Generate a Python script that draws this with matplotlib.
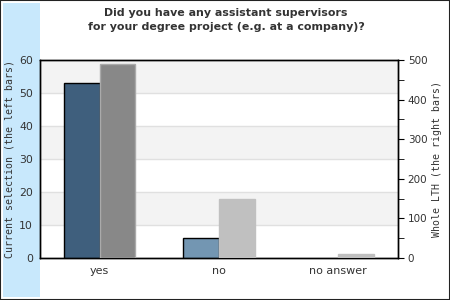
import matplotlib
matplotlib.use("Agg")
import matplotlib.pyplot as plt
from matplotlib.patches import Rectangle
import numpy as np

categories = ["yes", "no", "no answer"]
current = [53, 6, 0]
whole = [490, 149, 10]
left_ticks = [0, 10, 20, 30, 40, 50, 60]
right_ticks = [0, 100, 200, 300, 400, 500]
title = "Did you have any assistant supervisors\nfor your degree project (e.g. at a company)?"

left_colors = ["#3f5f7d", "#7396b2", "#a9bccd"]
right_colors = ["#888888", "#c0c0c0", "#c0c0c0"]

fig = plt.figure(figsize=(4.5, 3), dpi=100)
fig.patches.append(Rectangle((0, 0), 1, 1, transform=fig.transFigure, facecolor="white",
                             edgecolor="#222222", linewidth=1.5, zorder=-10))
fig.patches.append(Rectangle((3/450, 3/300), 37/450, 294/300, transform=fig.transFigure,
                             facecolor="#c8e8fc", edgecolor="none", zorder=-5))

ax = fig.add_axes([40/450, 1-258/300, 358/450, 198/300])
ax2 = ax.twinx()

ax.set_ylim(0, 60)
ax2.set_ylim(0, 500)
x = np.arange(len(categories))
ax.set_xlim(-0.5, 2.5)
w = 0.3

# bands and grid
for lo in [10, 30, 50]:
    ax.axhspan(lo, lo+10, facecolor="#f3f3f3", edgecolor="none", zorder=0)
for t in left_ticks[1:-1]:
    ax.axhline(t, color="#e0e0e0", linewidth=1, zorder=0.5)

for i in range(len(categories)):
    if current[i] > 0:
        ax.bar(x[i] - w/2, current[i], width=w, color=left_colors[i], edgecolor="black",
               linewidth=1, zorder=3)
    ax2.bar(x[i] + w/2, whole[i], width=w, color=right_colors[i],
            edgecolor="#aaaaaa" if i == 0 else right_colors[i], linewidth=1, zorder=3)

ax.set_xticks(x)
ax.set_xticklabels(categories, color="#333333", fontsize=8)
ax.tick_params(axis="x", length=0, pad=6)
ax.set_yticks(left_ticks)
ax.tick_params(axis="y", length=0, labelsize=7.8, labelcolor="#333333", pad=5)
ax2.set_yticks(right_ticks)
ax2.set_yticks(np.arange(50, 500, 100), minor=True)
ax2.tick_params(axis="y", which="both", length=4, direction="out", labelsize=7.5,
                labelcolor="#333333", color="black", pad=3)

for a in (ax, ax2):
    for s in a.spines.values():
        s.set_color("black")
        s.set_linewidth(1)

ax.set_ylabel("Current selection (the left bars)", family="DejaVu Sans Mono",
              fontsize=7.1, color="#333333")
ax2.set_ylabel("Whole LTH (the right bars)", family="DejaVu Sans Mono",
               fontsize=7.1, color="#333333", rotation=90)
ax.yaxis.set_label_coords(-0.086, 0.5)
ax2.yaxis.set_label_coords(1.108, 0.5)
ax.yaxis.label.set_va("center")
ax2.yaxis.label.set_va("center")

fig.text(226/450, 1 - 20/300, title, ha="center", va="center", fontsize=7.9,
         fontweight="bold", color="#333333", linespacing=1.55, family="DejaVu Sans")

fig.savefig("out.png", dpi=100)
